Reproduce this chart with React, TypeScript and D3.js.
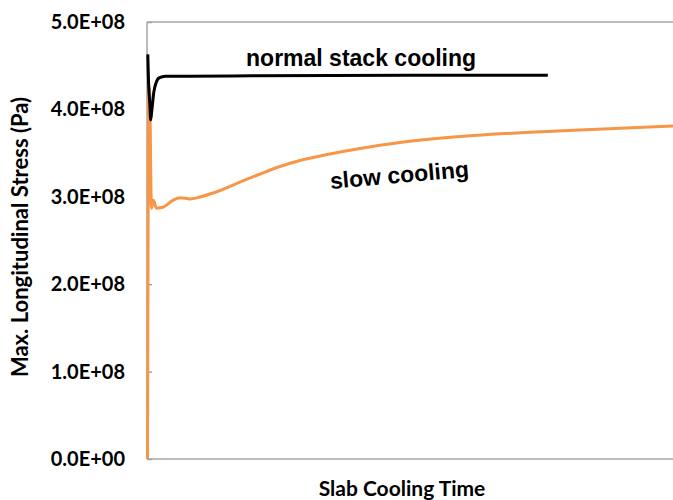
import React from 'react';
import { useRef, useEffect } from 'react';
import * as d3 from 'd3';

// time in arbitrary units (no ticks on the x axis), stress in Pa
const normalTime = [0.15, 0.3, 0.55, 0.7, 0.85, 1.3, 1.7, 2.3, 3.5, 6, 20, 50, 76.2];
const normalStress = [4.63e8, 4.3e8, 4.05e8, 3.88e8, 3.95e8, 4.2e8, 4.3e8, 4.36e8, 4.38e8, 4.38e8, 4.385e8, 4.39e8, 4.39e8];

const slowTime = [0.1, 0.35, 0.5, 0.85, 1.2, 1.8, 3.0, 4.9, 6.3, 8.17, 10.08, 12.55, 17.68, 21.48, 25.29, 29.09, 34.79, 40.49, 48.1, 59.5, 77.95, 100];
const slowStress = [0, 4.27e8, 4.2e8, 2.87e8, 2.96e8, 2.87e8, 2.88e8, 2.96e8, 2.99e8, 2.975e8, 2.998e8, 3.043e8, 3.169e8, 3.261e8, 3.347e8, 3.415e8, 3.49e8, 3.553e8, 3.621e8, 3.69e8, 3.753e8, 3.81e8];

const yTicks = [0, 1e8, 2e8, 3e8, 4e8, 5e8];
const yTickLabels = ["0.0E+00", "1.0E+08", "2.0E+08", "3.0E+08", "4.0E+08", "5.0E+08"];

const chartStyle = {
  margin: { top: 22, left: 147, bottom: 41, right: 0 },
  tickFont: "Lato, 'Open Sans', sans-serif",
  labelFont: "'Liberation Sans', Arial, sans-serif",
  axisColor: "#a6a6a6",
  normalColor: "#000000",
  slowColor: "#f79646",
  strokeWidth: 3,
};

const App: React.FC = () => {
  const svgRef = useRef<SVGSVGElement>(null);
  const width = 673;
  const height = 500;

  useEffect(() => {
    if (!svgRef.current) return;
    const m = chartStyle.margin;
    const svg = d3.select(svgRef.current);
    svg.selectAll("*").remove();

    const xScale = d3.scaleLinear().domain([0, 100]).range([m.left, width - m.right]);
    const yScale = d3.scaleLinear().domain([0, 5e8]).range([height - m.bottom, m.top]);

    // plot frame (top, left, bottom; the right edge falls outside the picture)
    const frame = svg.append("g")
      .attr("stroke", chartStyle.axisColor)
      .attr("stroke-width", 1.5);
    frame.append("line").attr("x1", m.left).attr("x2", width).attr("y1", m.top).attr("y2", m.top);
    frame.append("line").attr("x1", m.left).attr("x2", m.left).attr("y1", m.top).attr("y2", height - m.bottom);
    frame.append("line").attr("x1", m.left).attr("x2", width).attr("y1", height - m.bottom).attr("y2", height - m.bottom);

    const yAxis = d3.axisLeft<number>(yScale)
      .tickValues(yTicks)
      .tickSizeInner(-5)
      .tickSizeOuter(0)
      .tickPadding(22)
      .tickFormat((d, i) => yTickLabels[i]);

    svg.append("g")
      .attr("transform", `translate(${m.left},0)`)
      .call(yAxis)
      .call(g => g.select(".domain").remove())
      .call(g => g.selectAll(".tick line").attr("stroke", chartStyle.axisColor).attr("stroke-width", 1.5))
      .call(g => g.selectAll(".tick text")
        .style("font-family", chartStyle.tickFont)
        .style("font-size", "20px")
        .style("font-weight", "bold")
        .attr("fill", "#000"));

    const line = d3.line<[number, number]>()
      .x(d => xScale(d[0]))
      .y(d => yScale(d[1]))
      .curve(d3.curveMonotoneX);

    const slowData: [number, number][] = slowTime.map((t, i) => [t, slowStress[i]]);
    const normalData: [number, number][] = normalTime.map((t, i) => [t, normalStress[i]]);

    svg.append("path")
      .datum(slowData)
      .attr("fill", "none")
      .attr("stroke", chartStyle.slowColor)
      .attr("stroke-width", chartStyle.strokeWidth)
      .attr("d", line);

    svg.append("path")
      .datum(normalData)
      .attr("fill", "none")
      .attr("stroke", chartStyle.normalColor)
      .attr("stroke-width", chartStyle.strokeWidth)
      .attr("d", line);

    // series labels
    svg.append("text")
      .attr("x", xScale(40.7))
      .attr("y", yScale(4.5e8))
      .attr("text-anchor", "middle")
      .style("font-family", chartStyle.labelFont)
      .style("font-weight", "bold")
      .style("font-size", "23px")
      .text("normal stack cooling");

    svg.append("text")
      .attr("transform", `translate(${xScale(48.1)},${yScale(3.16e8)}) rotate(-5)`)
      .attr("text-anchor", "middle")
      .style("font-family", chartStyle.labelFont)
      .style("font-weight", "bold")
      .style("font-size", "23px")
      .text("slow cooling");

    // axis titles
    svg.append("text")
      .attr("transform", `translate(28,${237}) rotate(-90)`)
      .attr("text-anchor", "middle")
      .style("font-family", chartStyle.tickFont)
      .style("font-weight", "bold")
      .style("font-size", "22px")
      .text("Max. Longitudinal Stress (Pa)");

    svg.append("text")
      .attr("x", 402)
      .attr("y", 496)
      .attr("text-anchor", "middle")
      .style("font-family", chartStyle.tickFont)
      .style("font-weight", "bold")
      .style("font-size", "21px")
      .text("Slab Cooling Time");
  }, []);

  return (
    <svg
      ref={svgRef}
      width={width}
      height={height}
      style={{ position: "absolute", left: 0, top: 0, background: "#fff" }}
    />
  );
};

export default App;
